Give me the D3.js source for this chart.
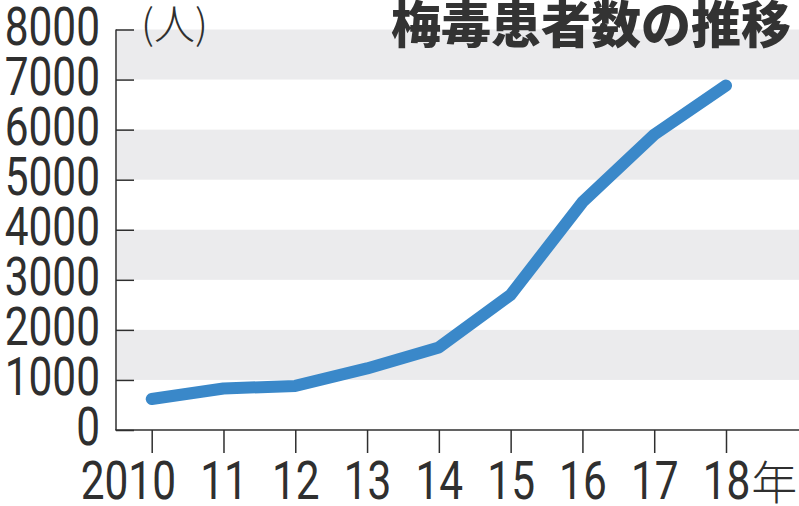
<!DOCTYPE html>
<html><head><meta charset="utf-8">
<script src="https://cdn.jsdelivr.net/npm/d3@7"></script>
<style>html,body{margin:0;padding:0;background:#fff;}svg{display:block;}</style>
</head><body>
<svg id="c" width="799" height="506"></svg>
<script>
const years = [2010, 2011, 2012, 2013, 2014, 2015, 2016, 2017, 2018];
const patients = [620, 830, 880, 1230, 1650, 2700, 4550, 5900, 6880];
const yTicks = [0, 1000, 2000, 3000, 4000, 5000, 6000, 7000, 8000];
const xTickLabels = ["10", "11", "12", "13", "14", "15", "16", "17", "18"];
const title = "梅毒患者数の推移";
const unit = "(人)";

const svg = d3.select("#c");
const mLeft = 116, mRight = 799, mTop = 29.5, mBottom = 430;
const x = d3.scaleLinear().domain([2010, 2018]).range([151.7, 726]);
const y = d3.scaleLinear().domain([0, 8000]).range([mBottom, mTop]);
const ink = "#2f2f2f";
const numFont = "Roboto, Liberation Sans, sans-serif";
const numSize = 53, sx = 0.8;

function numText(g, tx, ty, anchor, str) {
  return g.append("text").attr("transform", `translate(${tx},${ty}) scale(${sx},1)`)
    .attr("text-anchor", anchor).attr("font-family", numFont).attr("font-weight", 400)
    .attr("font-size", numSize).attr("fill", ink).text(str);
}

// bands
for (let i = 1; i < yTicks.length - 1; i += 2) {
  svg.append("rect").attr("x", mLeft + 1).attr("width", mRight - mLeft - 1)
    .attr("y", y(yTicks[i + 1])).attr("height", y(yTicks[i]) - y(yTicks[i + 1]))
    .attr("fill", "#ebebed");
}

// y axis
const yAxis = svg.append("g").attr("transform", `translate(${mLeft},0)`)
  .call(d3.axisRight(y).tickValues(yTicks).tickSize(18).tickFormat(""));
yAxis.select(".domain").remove();
yAxis.selectAll("line").attr("stroke", ink).attr("stroke-width", 1.5);
svg.append("line").attr("x1", mLeft).attr("x2", mLeft).attr("y1", mTop).attr("y2", mBottom)
  .attr("stroke", ink).attr("stroke-width", 1.5);
const yLab = svg.append("g");
yTicks.forEach(d => numText(yLab, 100, y(d) + 15, "end", d));

// x axis
const xAxis = svg.append("g").attr("transform", `translate(0,${mBottom})`)
  .call(d3.axisBottom(x).tickValues(years).tickSize(23).tickFormat(""));
xAxis.select(".domain").remove();
svg.append("line").attr("x1", mLeft - 0.75).attr("x2", mRight).attr("y1", mBottom).attr("y2", mBottom)
  .attr("stroke", ink).attr("stroke-width", 1.5);
xAxis.selectAll("line").attr("stroke", ink).attr("stroke-width", 1.5);
xAxis.selectAll(".tick").each(function (d, i) {
  const g = d3.select(this);
  const t = numText(g, 0, 69, "middle", xTickLabels[i]);
  const w = t.node().getComputedTextLength() * sx;
  if (i === 0) numText(g, -w / 2, 69, "end", "20");
  if (i === years.length - 1) {
    g.append("text").attr("x", w / 2 + 1).attr("y", 69)
      .attr("text-anchor", "start").attr("font-family", "Noto Sans CJK JP").attr("font-weight", 300)
      .attr("font-size", 46).attr("fill", ink).text("年");
  }
});

// line
const line = d3.line().x((d, i) => x(years[i])).y(d => y(d));
svg.append("path").datum(patients).attr("d", line)
  .attr("fill", "none").attr("stroke", "#3a88c9").attr("stroke-width", 12)
  .attr("stroke-linecap", "round").attr("stroke-linejoin", "round");

// unit & title
svg.append("text").attr("x", 141).attr("y", 39)
  .attr("font-family", "Noto Sans CJK JP").attr("font-weight", 300).attr("font-size", 41)
  .attr("fill", ink).text(unit);
svg.append("text").attr("x", 791).attr("y", 43).attr("text-anchor", "end")
  .attr("font-family", "Noto Sans CJK JP").attr("font-weight", 900).attr("font-size", 50)
  .attr("fill", "#333").text(title);
</script>
</body></html>
